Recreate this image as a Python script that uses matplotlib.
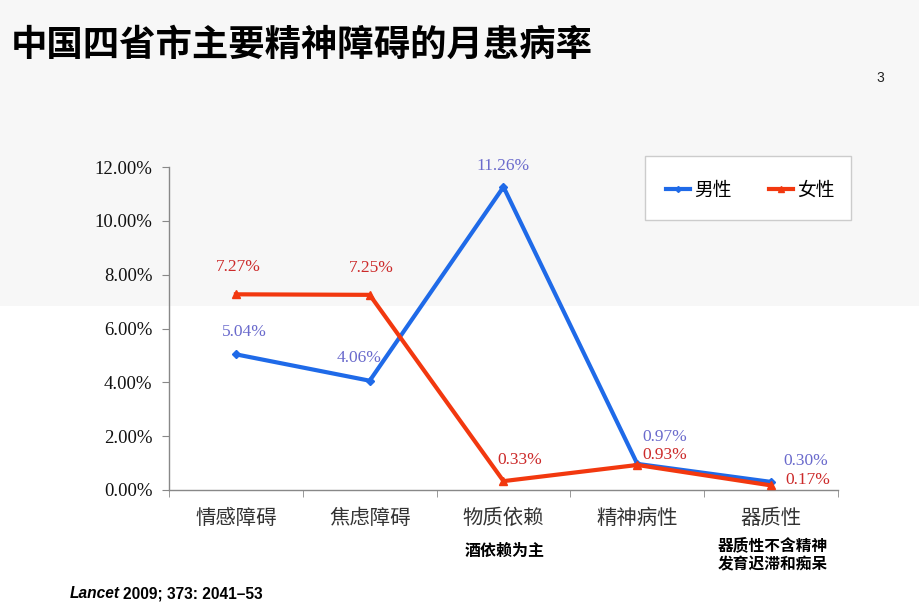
import matplotlib
matplotlib.use("Agg")
import matplotlib.pyplot as plt
from matplotlib.patches import Rectangle
from matplotlib.lines import Line2D

categories = ["情感障碍", "焦虑障碍", "物质依赖", "精神病性", "器质性"]
male = [5.04, 4.06, 11.26, 0.97, 0.30]
female = [7.27, 7.25, 0.33, 0.93, 0.17]
yticks = [0, 2, 4, 6, 8, 10, 12]
ytick_labels = ["0.00%", "2.00%", "4.00%", "6.00%", "8.00%", "10.00%", "12.00%"]
series_names = ["男性", "女性"]
title = "中国四省市主要精神障碍的月患病率"
note_mid = "酒依赖为主"
note_right = "器质性不含精神\n发育迟滞和痴呆"

CJK = ["Noto Sans CJK SC", "DejaVu Sans"]
SERIF = ["Liberation Serif", "DejaVu Serif"]
plt.rcParams['font.family'] = CJK

W, H = 920, 614
fig = plt.figure(figsize=(W / 100, H / 100), dpi=100)
fig.patch.set_facecolor("white")

# light gray band at top
fig.patches.append(Rectangle((0, 1 - 306 / H), 1, 306 / H, transform=fig.transFigure,
                             facecolor="#f7f7f7", edgecolor="none", zorder=-10))

ax = fig.add_axes([169 / W, 1 - 490 / H, 669 / W, 323 / H])
ax.patch.set_alpha(0)

x = list(range(len(categories)))
c_male = "#1f6ae8"
c_female = "#f2380f"
ax.plot(x, male, color=c_male, lw=3, marker="D", ms=4, zorder=3, clip_on=False)
ax.plot(x, female, color=c_female, lw=3, marker="^", ms=6, zorder=3, clip_on=False)

ax.set_xlim(-0.5, 4.5)
ax.set_ylim(0, 12)

ax.set_yticks(yticks)
ax.set_yticklabels(ytick_labels, family=SERIF, fontsize=13.5, color="#111111")
ax.set_xticks(x)
ax.set_xticklabels(categories, fontsize=14.7, color="#333333")
ax.set_xticks([i - 0.5 for i in range(len(categories) + 1)], minor=True)
ax.tick_params(axis="x", which="major", length=0, pad=13)
ax.tick_params(axis="x", which="minor", length=5, color="#888888", direction="out")
ax.tick_params(axis="y", length=5, color="#888888", pad=7)

for s in ["top", "right"]:
    ax.spines[s].set_visible(False)
for s in ["left", "bottom"]:
    ax.spines[s].set_color("#888888")
    ax.spines[s].set_linewidth(1)

# data labels (offsets in pixels -> points)
px = 72 / 100
m_off = [(8, 22), (-11, 23), (0, 21), (27, 27), (35, 21)]
f_off = [(2, 27), (2, 27), (16, 21), (27, 10), (37, 5)]
for i, v in enumerate(male):
    ax.annotate(f"{v:.2f}%", (i, v), xytext=(m_off[i][0] * px, m_off[i][1] * px),
                textcoords="offset points", ha="center", va="center",
                family=SERIF, fontsize=12.5, color="#6a6acc")
for i, v in enumerate(female):
    ax.annotate(f"{v:.2f}%", (i, v), xytext=(f_off[i][0] * px, f_off[i][1] * px),
                textcoords="offset points", ha="center", va="center",
                family=SERIF, fontsize=12.5, color="#cc2a2a")

# legend box
fig.patches.append(Rectangle((645 / W, 1 - 220 / H), 206 / W, 64 / H, transform=fig.transFigure,
                             facecolor="white", edgecolor="#cccccc", lw=1, zorder=5))
handles = [Line2D([], [], color=c_male, lw=3, marker="D", ms=3),
           Line2D([], [], color=c_female, lw=3, marker="^", ms=5)]
leg = fig.legend(handles, series_names, loc="center", bbox_to_anchor=(750 / W, 1 - 190 / H),
                 ncol=2, frameon=False, fontsize=13.5, handlelength=1.3, handletextpad=0.2,
                 columnspacing=2.0)
leg.set_zorder(6)

# title and misc text
fig.text(11 / W, 1 - 45 / H, title, fontsize=26.2, fontweight="bold", ha="left", va="center",
         color="black")
fig.text(880 / W, 1 - 78 / H, "3", fontsize=10, ha="center", va="center",
         family=["Liberation Sans"], color="#222222")
fig.text(505 / W, 1 - 551 / H, note_mid, fontsize=11.5, fontweight="bold", ha="center", va="center")
fig.text(773 / W, 1 - 555 / H, note_right, fontsize=11.3, fontweight="bold", ha="center",
         va="center", linespacing=1.2)
t1 = fig.text(70 / W, 1 - 594 / H, "Lancet", fontsize=11.2, fontweight="bold", style="italic",
              family=["Liberation Sans"], ha="left", va="center")
fig.canvas.draw()
bb = t1.get_window_extent()
fig.text((bb.x1 + 3) / W, 1 - 594 / H, "2009; 373: 2041–53", fontsize=11.2, fontweight="bold",
         family=["Liberation Sans"], ha="left", va="center")

fig.savefig("out.png", dpi=100)
